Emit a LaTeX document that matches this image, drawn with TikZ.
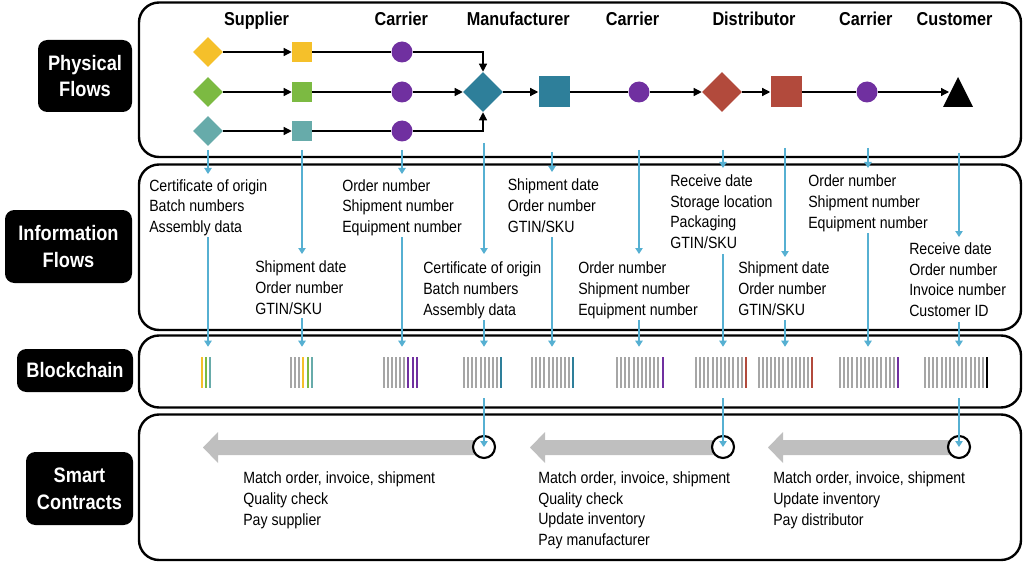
\documentclass[tikz,border=0pt]{standalone}
\usepackage{fontspec}
\setmainfont{Liberation Sans}[FakeStretch=0.87]
\usetikzlibrary{shapes.geometric,arrows.meta,calc}
\definecolor{cyel}{HTML}{F5C02A}
\definecolor{cgrn}{HTML}{7CBA42}
\definecolor{ctea}{HTML}{67ABAA}
\definecolor{cpur}{HTML}{7030A0}
\definecolor{cblu}{HTML}{2E7F9A}
\definecolor{cred}{HTML}{B24A3C}
\definecolor{cbar}{HTML}{A6A6A6}
\definecolor{carr}{HTML}{BFBFBF}
\definecolor{clink}{HTML}{56B0D2}
\newcommand\bcgroup[4]{%
  \node[bk] (#1) at (#2,372.5) {};
  \foreach \c [count=\j from 0] in {#4}
    \draw[bcbar, draw=\c] ({#2-(#3-1)*2.075+\j*4.15},357) -- ++(0,31);
}
\begin{document}
\begin{tikzpicture}[x=0.75pt,y=-0.75pt,
  panel/.style={draw=black, line width=1.8pt, rounded corners=15pt},
  lab/.style={fill=black, text=white, rounded corners=7pt, font=\bfseries\fontsize{15.7}{20}\selectfont, align=center, inner sep=0pt},
  hdr/.style={font=\bfseries\fontsize{14}{16}\selectfont, anchor=base, inner sep=0pt},
  txt/.style={font=\fontsize{12.2}{15.4}\selectfont, anchor=base west, align=left, inner sep=0pt},
  dia/.style={diamond, inner sep=0pt, minimum width=22.5pt, minimum height=22.5pt},
  sqr/.style={rectangle, inner sep=0pt, minimum size=15pt},
  pdot/.style={circle, inner sep=0pt, minimum size=15.75pt, fill=cpur},
  parr/.style={line width=0.9pt, -{Triangle[width=6pt,length=6pt]}},
  pline/.style={line width=0.9pt},
  link/.style={draw=clink, line width=1.7pt, -{Triangle[width=5.5pt,length=4.5pt]}},
  bk/.style={inner sep=0pt, minimum height=38.25pt, minimum width=10pt},
  bcbar/.style={line width=1.5pt},
  scirc/.style={circle, draw=black, fill=white, line width=1.6pt, minimum size=16.5pt, inner sep=0pt}
]
\useasboundingbox (0,0) rectangle (1024,563);

% panels
\draw[panel] (139,2.5) rectangle (1021,157);
\draw[panel] (139,164.5) rectangle (1021,330);
\draw[panel] (139,335.5) rectangle (1021,407.5);
\draw[panel] (139,414.5) rectangle (1021,560);

% row labels
\node[lab, minimum width=70.5pt, minimum height=54pt] (lphys) at (85,76) {Physical\\Flows};
\node[lab, minimum width=95.25pt, minimum height=54.75pt] (linfo) at (68.5,246.5) {Information\\Flows};
\node[lab, minimum width=87pt, minimum height=32.25pt] (lbc) at (75,370.5) {Blockchain};
\node[lab, minimum width=80.25pt, minimum height=54.75pt] (lsc) at (79.5,488.5) {Smart\\Contracts};

% headers
\node[hdr] (h1) at (256.5,26) {Supplier};
\node[hdr] (h2) at (401.3,26) {Carrier};
\node[hdr] (h3) at (518.3,26) {Manufacturer};
\node[hdr] (h4) at (632.5,26) {Carrier};
\node[hdr] (h5) at (754,26) {Distributor};
\node[hdr] (h6) at (865.8,26) {Carrier};
\node[hdr] (h7) at (954.5,26) {Customer};

% physical flows
\node[dia, fill=cyel] (d1) at (208,52) {};
\node[dia, fill=cgrn] (d2) at (208,92) {};
\node[dia, fill=ctea] (d3) at (208,131) {};
\node[sqr, fill=cyel] (s1) at (302,52) {};
\node[sqr, fill=cgrn] (s2) at (302,92) {};
\node[sqr, fill=ctea] (s3) at (302,131) {};
\node[pdot] (c1) at (402,52) {};
\node[pdot] (c2) at (402,92) {};
\node[pdot] (c3) at (402,131) {};
\node[dia, fill=cblu, minimum width=30pt, minimum height=30pt] (man) at (483,92) {};
\node[sqr, fill=cblu, minimum size=23.25pt] (msq) at (554,92) {};
\node[pdot] (cm) at (639,92) {};
\node[dia, fill=cred, minimum width=30pt, minimum height=30pt] (dis) at (722,92) {};
\node[sqr, fill=cred, minimum size=23.25pt] (dsq) at (786,92) {};
\node[pdot] (cd) at (867,92) {};
\fill[black] (943,107) -- (958,77) -- (973,107) -- cycle;
\coordinate (cust) at (949,92);

\foreach \i in {1,2,3} {
  \draw[parr] (d\i) -- (s\i);
  \draw[pline] (s\i) -- (c\i);
}
\draw[parr] (c1) -| (man.north);
\draw[parr] (c2) -- (man);
\draw[parr] (c3) -| (man.south);
\draw[parr] (man) -- (msq);
\draw[pline] (msq) -- (cm);
\draw[parr] (cm) -- (dis);
\draw[parr] (dis) -- (dsq);
\draw[pline] (dsq) -- (cd);
\draw[parr] (cd) -- (cust);

% information flows (node base = baseline of last line)
\node[txt] (t1) at (149,232.5) {Certificate of origin\\Batch numbers\\Assembly data};
\node[txt] (t2) at (255,314) {Shipment date\\Order number\\GTIN/SKU};
\node[txt] (t3) at (342,232.5) {Order number\\Shipment number\\Equipment number};
\node[txt] (t4) at (423,315) {Certificate of origin\\Batch numbers\\Assembly data};
\node[txt] (t5) at (507.5,232) {Shipment date\\Order number\\GTIN/SKU};
\node[txt] (t6) at (578,315) {Order number\\Shipment number\\Equipment number};
\node[txt] (t7) at (670,248.5) {Receive date\\Storage location\\Packaging\\GTIN/SKU};
\node[txt] (t8) at (738,315) {Shipment date\\Order number\\GTIN/SKU};
\node[txt] (t9) at (808,228) {Order number\\Shipment number\\Equipment number};
\node[txt] (t10) at (909,316.5) {Receive date\\Order number\\Invoice number\\Customer ID};

% blockchain
\bcgroup{b1}{205.7}{3}{cyel,cgrn,ctea}
\bcgroup{b2}{301.4}{6}{cbar,cbar,cbar,cyel,cgrn,ctea}
\bcgroup{b3}{400.1}{9}{cbar,cbar,cbar,cbar,cbar,cbar,cpur,cpur,cpur}
\bcgroup{b4}{482.7}{10}{cbar,cbar,cbar,cbar,cbar,cbar,cbar,cbar,cbar,cblu}
\bcgroup{b5}{552.7}{11}{cbar,cbar,cbar,cbar,cbar,cbar,cbar,cbar,cbar,cbar,cblu}
\bcgroup{b6}{639.8}{12}{cbar,cbar,cbar,cbar,cbar,cbar,cbar,cbar,cbar,cbar,cbar,cpur}
\bcgroup{b7}{720.9}{13}{cbar,cbar,cbar,cbar,cbar,cbar,cbar,cbar,cbar,cbar,cbar,cbar,cred}
\bcgroup{b8}{785.5}{14}{cbar,cbar,cbar,cbar,cbar,cbar,cbar,cbar,cbar,cbar,cbar,cbar,cbar,cred}
\bcgroup{b9}{869}{15}{cbar,cbar,cbar,cbar,cbar,cbar,cbar,cbar,cbar,cbar,cbar,cbar,cbar,cbar,cpur}
\bcgroup{b10}{956.1}{16}{cbar,cbar,cbar,cbar,cbar,cbar,cbar,cbar,cbar,cbar,cbar,cbar,cbar,cbar,cbar,black}

% info links
\foreach \n/\x/\a/\b/\c in {1/208/150/174/237, 2/302/150/254/318, 3/402/150/174/237,
  4/484/143/254/320, 5/552/152/172/237, 6/639/150/254/320, 7/723/150/168/254,
  8/785/148/257/320, 9/868/148/168/233, 10/959/153/237/322} {
  \coordinate (pa\n) at (\x,\a);
  \coordinate (pb\n) at (\x,\b);
  \coordinate (pc\n) at (\x,\c);
  \draw[link] (pa\n) -- (pb\n);
  \draw[link] (pc\n) -- (pc\n |- b\n.north);
}

% smart contracts
\foreach \n/\t/\x in {1/203/484, 2/530/723, 3/768/959} {
  \fill[carr] (\x,440) -- ({\t+15},440) -- ({\t+15},432) -- (\t,447.5)
    -- ({\t+15},463) -- ({\t+15},455) -- (\x,455) -- cycle;
}
\node[scirc] (sc1) at (484,447) {};
\node[scirc] (sc2) at (723,447) {};
\node[scirc] (sc3) at (959,447) {};
\draw[link] (sc1 |- b4.south) -- (sc1.center);
\draw[link] (sc2 |- b7.south) -- (sc2.center);
\draw[link] (sc3 |- b10.south) -- (sc3.center);

\node[txt] (m1) at (243,525) {Match order, invoice, shipment\\Quality check\\Pay supplier};
\node[txt] (m2) at (538,545.5) {Match order, invoice, shipment\\Quality check\\Update inventory\\Pay manufacturer};
\node[txt] (m3) at (773,525) {Match order, invoice, shipment\\Update inventory\\Pay distributor};
\end{tikzpicture}
\end{document}
